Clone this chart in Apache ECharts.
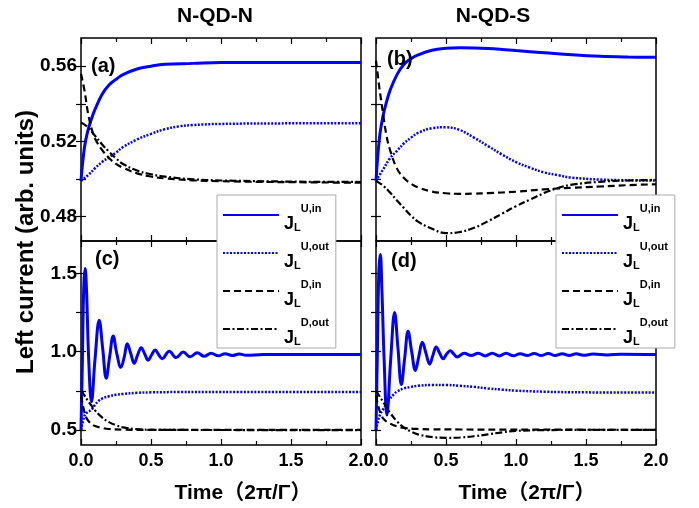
<!DOCTYPE html>
<html><head><meta charset="utf-8">
<script src="https://cdn.jsdelivr.net/npm/echarts@6/dist/echarts.min.js"></script>
<style>html,body{margin:0;padding:0;background:#fff}#c{width:699px;height:508px}</style>
</head><body><div id="c"></div>
<script>
// ---- tick labels ----
const xTicks = [0, 0.5, 1.0, 1.5, 2.0];
const yTopLabels = [0.48, 0.52, 0.56];
const yTopTicks = [0.48, 0.50, 0.52, 0.54, 0.56];
const yBotLabels = [0.5, 1.0, 1.5];
const yBotTicks = [0.5, 0.75, 1.0, 1.25, 1.5];
const seriesNames = ['Uin', 'Uout', 'Din', 'Dout'];

// ---- panel (a) N-QD-N, top ----
const aUin_t = [0,0.025,0.05,0.075,0.1,0.15,0.2,0.25,0.3,0.4,0.5,0.6,0.8,1.0,1.5,2.0];
const aUin   = [0.499,0.517,0.526,0.532,0.537,0.545,0.550,0.553,0.5555,0.5585,0.560,0.561,0.5615,0.562,0.562,0.562];
const aUout_t = [0,0.05,0.1,0.15,0.2,0.25,0.3,0.4,0.5,0.6,0.7,0.8,1.0,1.5,2.0];
const aUout   = [0.499,0.502,0.5057,0.509,0.5115,0.514,0.517,0.521,0.524,0.5265,0.528,0.5287,0.5293,0.5296,0.5297];
const aDin_t = [0,0.025,0.05,0.075,0.1,0.15,0.2,0.25,0.3,0.4,0.5,0.6,0.8,1.0,1.5,2.0];
const aDin   = [0.556,0.547,0.535,0.527,0.5215,0.5155,0.5112,0.508,0.506,0.503,0.5013,0.5003,0.4993,0.4988,0.4983,0.498];
const aDout_t = [0,0.05,0.1,0.15,0.2,0.25,0.3,0.4,0.5,0.6,0.8,1.0,1.5,2.0];
const aDout   = [0.530,0.5275,0.523,0.5185,0.5145,0.511,0.508,0.5045,0.5025,0.5012,0.4998,0.4992,0.4986,0.4984];

// ---- panel (b) N-QD-S, top ----
const bUin_t = [0,0.025,0.05,0.075,0.1,0.15,0.2,0.25,0.3,0.4,0.5,0.6,0.7,0.8,0.9,1.0,1.2,1.4,1.6,1.8,2.0];
const bUin   = [0.499,0.522,0.5335,0.541,0.547,0.5555,0.561,0.564,0.566,0.5685,0.5695,0.5698,0.5697,0.5694,0.5689,0.5683,0.5672,0.5661,0.5653,0.5649,0.5647];
const bUout_t = [0,0.05,0.1,0.15,0.2,0.25,0.3,0.4,0.5,0.6,0.7,0.8,0.9,1.0,1.1,1.2,1.3,1.4,1.6,1.8,2.0];
const bUout   = [0.499,0.505,0.511,0.515,0.519,0.522,0.5245,0.527,0.5275,0.526,0.522,0.5175,0.513,0.509,0.506,0.5035,0.502,0.5007,0.4997,0.4993,0.4992];
const bDin_t = [0,0.025,0.05,0.075,0.1,0.15,0.2,0.25,0.3,0.4,0.5,0.6,0.7,0.8,1.0,1.2,1.4,1.6,1.8,2.0];
const bDin   = [0.563,0.548,0.535,0.523,0.5155,0.5055,0.5005,0.4975,0.4955,0.4933,0.4924,0.4921,0.4922,0.4925,0.4932,0.4945,0.4953,0.496,0.4967,0.4972];
const bDout_t = [0,0.05,0.1,0.15,0.2,0.25,0.3,0.4,0.5,0.6,0.7,0.8,0.9,1.0,1.1,1.2,1.3,1.4,1.6,1.8,2.0];
const bDout   = [0.499,0.4965,0.4928,0.4885,0.4845,0.4805,0.4773,0.4735,0.4712,0.4718,0.474,0.4775,0.4815,0.4855,0.489,0.4925,0.4952,0.497,0.4985,0.4992,0.4995];

// ---- panel (c) N-QD-N, bottom ----
const cUin_t = [0,0.01,0.02,0.03,0.04,0.055,0.075,0.1,0.13,0.155,0.18,0.205,0.23,0.255,0.285,0.31,0.33,0.355,0.38,0.405,0.43,0.455,0.48,0.505,0.53,0.555,0.58,0.63,0.68,0.73,0.78,0.83,0.88,0.93,0.98,1.03,1.08,1.13,1.18,1.3,1.6,2.0];
const cUin   = [0.50,0.95,1.42,1.53,1.38,0.95,0.68,0.95,1.20,1.02,0.83,0.97,1.10,0.99,0.90,0.97,1.05,0.99,0.925,0.98,1.025,0.985,0.945,0.98,1.01,0.98,0.955,1.002,0.962,0.997,0.967,0.993,0.970,0.990,0.973,0.987,0.975,0.985,0.977,0.981,0.981,0.981];
const cUout_t = [0,0.015,0.03,0.05,0.075,0.1,0.125,0.15,0.2,0.25,0.3,0.4,0.5,0.7,1.0,2.0];
const cUout   = [0.50,0.56,0.60,0.615,0.63,0.66,0.685,0.70,0.715,0.725,0.73,0.737,0.74,0.742,0.743,0.743];
const cDin_t = [0,0.02,0.04,0.06,0.08,0.1,0.15,0.2,0.3,0.5,2.0];
const cDin   = [0.72,0.63,0.575,0.55,0.535,0.525,0.513,0.506,0.502,0.50,0.50];
const cDout_t = [0,0.025,0.05,0.075,0.1,0.15,0.2,0.25,0.3,0.4,0.5,0.7,2.0];
const cDout   = [0.75,0.72,0.685,0.655,0.625,0.58,0.55,0.53,0.517,0.505,0.501,0.50,0.499];

// ---- panel (d) N-QD-S, bottom ----
const dUin_t = [0,0.01,0.02,0.031,0.042,0.058,0.078,0.105,0.133,0.157,0.181,0.205,0.229,0.255,0.281,0.306,0.331,0.357,0.383,0.406,0.43,0.455,0.48,0.505,0.53,0.555,0.58,0.63,0.68,0.73,0.78,0.83,0.88,0.93,0.98,1.03,1.08,1.13,1.18,1.23,1.28,1.33,1.38,1.43,1.48,1.55,1.65,1.75,2.0];
const dUin   = [0.50,1.0,1.5,1.62,1.40,0.95,0.595,0.95,1.25,1.02,0.79,0.96,1.13,1.0,0.88,0.97,1.06,0.99,0.92,0.975,1.03,0.99,0.955,0.985,1.005,0.985,0.965,0.99,0.975,0.99,0.972,0.99,0.972,0.99,0.973,0.987,0.975,0.988,0.975,0.988,0.975,0.987,0.976,0.986,0.977,0.984,0.979,0.983,0.981];
const dUout_t = [0,0.015,0.03,0.05,0.075,0.1,0.125,0.15,0.2,0.25,0.3,0.4,0.5,0.6,0.7,0.8,0.9,1.0,1.2,1.5,2.0];
const dUout   = [0.50,0.56,0.60,0.63,0.665,0.70,0.725,0.745,0.765,0.775,0.782,0.787,0.787,0.782,0.775,0.765,0.757,0.751,0.744,0.74,0.739];
const dDin_t = [0,0.02,0.04,0.06,0.08,0.1,0.15,0.2,0.3,0.4,0.6,1.0,2.0];
const dDin   = [0.72,0.64,0.59,0.565,0.55,0.54,0.523,0.513,0.506,0.504,0.503,0.502,0.501];
const dDout_t = [0,0.025,0.05,0.075,0.1,0.15,0.2,0.25,0.3,0.4,0.5,0.6,0.7,0.8,0.9,1.0,1.2,1.5,2.0];
const dDout   = [0.75,0.715,0.68,0.645,0.61,0.555,0.515,0.49,0.472,0.455,0.45,0.452,0.46,0.472,0.485,0.494,0.499,0.50,0.50];

const zip = (t, v) => t.map((x, i) => [x, v[i]]);
const BLUE = '#0000ff';
const styles = {
  Uin:  {color: BLUE, width: 3, type: 'solid'},
  Uout: {color: BLUE, width: 2.5, type: [2, 1.5]},
  Din:  {color: '#000', width: 2.2, type: [7, 4]},
  Dout: {color: '#000', width: 2.2, type: [7, 2.5, 2, 2.5]}
};
const FONT = "'Liberation Sans', 'Noto Sans CJK SC', sans-serif";

const grids = [
  {left: 81, top: 38, width: 280, height: 203},
  {left: 376, top: 38, width: 280, height: 203},
  {left: 81, top: 241, width: 280, height: 204},
  {left: 376, top: 241, width: 280, height: 204}
].map(g => Object.assign({show: true, borderColor: '#000', borderWidth: 1.5, backgroundColor: 'transparent'}, g));

const xAxis = [], yAxis = [];
for (let g = 0; g < 4; g++) {
  const bottomRow = g >= 2;
  ['bottom', 'top'].forEach(pos => {
    xAxis.push({
      type: 'value', gridIndex: g, position: pos, min: 0, max: 2, interval: 0.5,
      axisLine: {show: false}, splitLine: {show: false},
      axisTick: {show: true, inside: true, length: 6, lineStyle: {color: '#000', width: 1.2}},
      minorTick: {show: true, splitNumber: 2, length: 4, lineStyle: {color: '#000', width: 1.2}},
      axisLabel: {show: bottomRow && pos === 'bottom', margin: 7, color: '#000', fontFamily: FONT,
        fontWeight: 'bold', fontSize: 18, formatter: v => xTicks.indexOf(v) >= 0 ? v.toFixed(1) : ''}
    });
  });
  ['left', 'right'].forEach(pos => {
    yAxis.push({
      type: 'value', gridIndex: g, position: pos,
      min: bottomRow ? 0.404 : 0.467, max: bottomRow ? 1.706 : 0.575,
      axisLine: {show: false}, splitLine: {show: false},
      axisTick: {show: true, inside: true, length: 5, customValues: bottomRow ? yBotTicks : yTopTicks,
        lineStyle: {color: '#000', width: 1.2}},
      axisLabel: {show: pos === 'left' && (g === 0 || g === 2), margin: 4, color: '#000', fontFamily: FONT,
        fontWeight: 'bold', fontSize: 19, customValues: bottomRow ? yBotLabels : yTopLabels,
        formatter: v => bottomRow ? v.toFixed(1) : v.toFixed(2)}
    });
  });
}

const panelData = [
  {Uin: zip(aUin_t, aUin), Uout: zip(aUout_t, aUout), Din: zip(aDin_t, aDin), Dout: zip(aDout_t, aDout)},
  {Uin: zip(bUin_t, bUin), Uout: zip(bUout_t, bUout), Din: zip(bDin_t, bDin), Dout: zip(bDout_t, bDout)},
  {Uin: zip(cUin_t, cUin), Uout: zip(cUout_t, cUout), Din: zip(cDin_t, cDin), Dout: zip(cDout_t, cDout)},
  {Uin: zip(dUin_t, dUin), Uout: zip(dUout_t, dUout), Din: zip(dDin_t, dDin), Dout: zip(dDout_t, dDout)}
];
const series = [];
panelData.forEach((pd, g) => {
  seriesNames.forEach(n => {
    series.push({
      type: 'line', name: n, xAxisIndex: g * 2, yAxisIndex: g * 2, data: pd[n],
      smooth: 0.4, symbol: 'none', clip: true, animation: false,
      lineStyle: {color: styles[n].color, width: styles[n].width, type: styles[n].type},
      itemStyle: {color: styles[n].color}
    });
  });
});

const supText = {Uin: 'U,in', Uout: 'U,out', Din: 'D,in', Dout: 'D,out'};
const legendRich = {
  j: {fontSize: 18, fontWeight: 'bold', fontFamily: FONT, color: '#000', lineHeight: 24, verticalAlign: 'bottom'},
  l: {fontSize: 11, fontWeight: 'bold', fontFamily: FONT, color: '#000', lineHeight: 8, verticalAlign: 'bottom'},
  u: {fontSize: 11, fontWeight: 'bold', fontFamily: FONT, color: '#000', lineHeight: 14, verticalAlign: 'top',
      padding: [6, 0, 0, 0]},
  s: {lineHeight: 36, width: 0, fontSize: 11}
};
const mkLegend = left => ({
  left: left, top: 195, orient: 'vertical', itemWidth: 56, itemHeight: 14, itemGap: 2,
  padding: [2, 7, 1, 5], backgroundColor: '#fff', borderColor: '#aaa', borderWidth: 1,
  borderRadius: 0, selectedMode: false, z: 20, data: seriesNames,
  itemStyle: {opacity: 0},
  formatter: n => '{s| }{j|J}{l|L}{u|' + supText[n] + '}',
  textStyle: {rich: legendRich}
});

const txt = (text, x, y, size, extra) => ({
  type: 'text', x: x, y: y, z: 30,
  style: Object.assign({text: text, fontSize: size, fontWeight: 'bold', fontFamily: FONT, fill: '#000',
    textAlign: 'center', textVerticalAlign: 'middle'}, extra || {})
});

const option = {
  animation: false,
  backgroundColor: '#fff',
  grid: grids, xAxis: xAxis, yAxis: yAxis, series: series,
  legend: [mkLegend(217), mkLegend(556)],
  graphic: [
    txt('N-QD-N', 215, 16, 21),
    txt('N-QD-S', 493, 16, 21),
    txt('(a)', 91, 66, 20, {textAlign: 'left'}),
    txt('(b)', 387, 59, 20, {textAlign: 'left'}),
    txt('(c)', 95, 259, 20, {textAlign: 'left'}),
    txt('(d)', 391, 261, 20, {textAlign: 'left'}),
    txt('Time（2π/Γ）', 243, 493, 21),
    txt('Time（2π/Γ）', 527, 493, 21),
    Object.assign(txt('Left current (arb. units)', 0, 0, 24), {x: 26, y: 242, rotation: Math.PI / 2})
  ]
};
const chart = echarts.init(document.getElementById('c'), null, {renderer: 'canvas'});
chart.setOption(option);
</script></body></html>
